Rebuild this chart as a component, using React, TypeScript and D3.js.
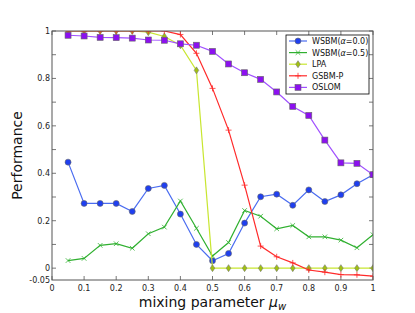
import React, { useEffect, useRef } from "react";
import * as d3 from "d3";

const mu = [0.05, 0.1, 0.15, 0.2, 0.25, 0.3, 0.35, 0.4, 0.45, 0.5, 0.55, 0.6, 0.65, 0.7, 0.75, 0.8, 0.85, 0.9, 0.95, 1.0];

const wsbm0 = [0.447, 0.273, 0.273, 0.273, 0.239, 0.336, 0.349, 0.228, 0.1, 0.031, 0.062, 0.19, 0.301, 0.312, 0.265, 0.33, 0.281, 0.309, 0.356, 0.394];
const wsbm05 = [0.032, 0.041, 0.096, 0.103, 0.084, 0.145, 0.173, 0.283, 0.168, 0.051, 0.108, 0.243, 0.219, 0.166, 0.18, 0.132, 0.132, 0.118, 0.086, 0.141];
const lpa = [1.0, 1.0, 1.0, 1.0, 1.0, 0.995, 0.977, 0.94, 0.834, 0, 0, 0, 0, 0, 0, 0, 0, 0, 0, 0];
const gsbm = [1.0, 1.0, 1.0, 1.0, 1.0, 1.0, 1.0, 0.985, 0.906, 0.758, 0.582, 0.35, 0.093, 0.048, 0.022, -0.008, -0.017, -0.027, -0.028, -0.034];
const oslom = [0.982, 0.979, 0.973, 0.972, 0.97, 0.962, 0.961, 0.946, 0.94, 0.914, 0.861, 0.824, 0.796, 0.743, 0.682, 0.644, 0.54, 0.444, 0.442, 0.394];

const yTickLabels = ["-0.05", "0", "0.2", "0.4", "0.6", "0.8", "1"];
const xTickLabels = ["0", "0.1", "0.2", "0.3", "0.4", "0.5", "0.6", "0.7", "0.8", "0.9", "1"];

type Marker = "circle" | "x" | "diamond" | "plus" | "square";
interface Series {
  name: string;
  alpha?: string;
  values: number[];
  line: string;
  fill: string;
  marker: Marker;
}

const series: Series[] = [
  { name: "WSBM", alpha: "0.0", values: wsbm0, line: "#4a6cf0", fill: "#1f3ff0", marker: "circle" },
  { name: "WSBM", alpha: "0.5", values: wsbm05, line: "#30b030", fill: "#30b030", marker: "x" },
  { name: "LPA", values: lpa, line: "#c8e630", fill: "#a0c010", marker: "diamond" },
  { name: "GSBM-P", values: gsbm, line: "#ff2a2a", fill: "#ff2a2a", marker: "plus" },
  { name: "OSLOM", values: oslom, line: "#a050ff", fill: "#8c10f0", marker: "square" },
];

const FONT = "DejaVu Sans, sans-serif";

const App: React.FC = () => {
  const svgRef = useRef<SVGSVGElement | null>(null);

  useEffect(() => {
    if (!svgRef.current) return;
    const width = 415;
    const height = 313;
    const m = { left: 52, right: 42, top: 31, bottom: 33 };

    const x = d3.scaleLinear().domain([0, 1]).range([m.left, width - m.right]);
    const y = d3.scaleLinear().domain([-0.05, 1]).range([height - m.bottom, m.top]);

    const svg = d3.select(svgRef.current);
    svg.selectAll("*").remove();
    svg.attr("width", width).attr("height", height).style("font-family", FONT);

    svg.append("rect").attr("width", width).attr("height", height).attr("fill", "#fff");

    const frameColor = "#555";
    const [x0, x1] = x.range();
    const [yb, yt] = y.range();

    svg
      .append("defs")
      .append("clipPath")
      .attr("id", "plot-clip")
      .append("rect")
      .attr("x", x0)
      .attr("y", yt)
      .attr("width", x1 - x0)
      .attr("height", yb - yt);

    /* 눈금 (안쪽 방향) */
    const xTicks = d3.range(0, 11).map((i) => i / 10);
    const yTicks = d3.range(0, 11).map((i) => i / 10);
    const ticks = svg.append("g").attr("stroke", frameColor).attr("stroke-width", 0.8);
    xTicks.forEach((t) => {
      ticks.append("line").attr("x1", x(t)).attr("x2", x(t)).attr("y1", yb).attr("y2", yb - 4);
      ticks.append("line").attr("x1", x(t)).attr("x2", x(t)).attr("y1", yt).attr("y2", yt + 4);
    });
    yTicks.forEach((t) => {
      ticks.append("line").attr("x1", x0).attr("x2", x0 + 4).attr("y1", y(t)).attr("y2", y(t));
      ticks.append("line").attr("x1", x1).attr("x2", x1 - 4).attr("y1", y(t)).attr("y2", y(t));
    });

    /* 눈금 라벨 */
    xTickLabels.forEach((lab) => {
      svg
        .append("text")
        .attr("x", x(+lab))
        .attr("y", yb + 11)
        .attr("text-anchor", "middle")
        .attr("font-size", 8)
        .attr("fill", "#222")
        .text(lab);
    });
    yTickLabels.forEach((lab) => {
      svg
        .append("text")
        .attr("x", x0 - 2)
        .attr("y", y(+lab) + 3)
        .attr("text-anchor", "end")
        .attr("font-size", 8)
        .attr("fill", "#222")
        .text(lab);
    });

    /* 축 제목 */
    svg
      .append("text")
      .attr("transform", `translate(22,${(yt + yb) / 2}) rotate(-90)`)
      .attr("text-anchor", "middle")
      .attr("font-size", 14)
      .attr("fill", "#111")
      .text("Performance");

    const xl = svg
      .append("text")
      .attr("x", (x0 + x1) / 2)
      .attr("y", 307)
      .attr("text-anchor", "middle")
      .attr("font-size", 14)
      .attr("fill", "#111");
    xl.append("tspan").text("mixing parameter ");
    xl.append("tspan").attr("font-style", "italic").text("μ");
    xl.append("tspan").attr("font-style", "italic").attr("font-size", 10).attr("dy", 3).text("w");

    /* 마커 그리기 */
    const drawMarker = (g: d3.Selection<SVGGElement, unknown, null, undefined>, s: Series, cx: number, cy: number) => {
      const edge = "#666";
      if (s.marker === "circle") {
        g.append("circle").attr("cx", cx).attr("cy", cy).attr("r", 3).attr("fill", s.fill).attr("stroke", edge).attr("stroke-width", 0.6);
      } else if (s.marker === "square") {
        g.append("rect").attr("x", cx - 3).attr("y", cy - 3).attr("width", 6).attr("height", 6).attr("fill", s.fill).attr("stroke", edge).attr("stroke-width", 0.6);
      } else if (s.marker === "diamond") {
        g.append("path")
          .attr("d", `M${cx},${cy - 3.5}L${cx + 2.3},${cy}L${cx},${cy + 3.5}L${cx - 2.3},${cy}Z`)
          .attr("fill", s.fill)
          .attr("stroke", "#777")
          .attr("stroke-width", 0.6);
      } else if (s.marker === "x") {
        g.append("path")
          .attr("d", `M${cx - 2.3},${cy - 2.3}L${cx + 2.3},${cy + 2.3}M${cx - 2.3},${cy + 2.3}L${cx + 2.3},${cy - 2.3}`)
          .attr("stroke", s.fill)
          .attr("stroke-width", 0.8);
      } else {
        g.append("path")
          .attr("d", `M${cx - 3},${cy}L${cx + 3},${cy}M${cx},${cy - 3}L${cx},${cy + 3}`)
          .attr("stroke", s.fill)
          .attr("stroke-width", 0.8);
      }
    };

    /* 데이터 선 */
    const line = d3
      .line<number>()
      .x((_, i) => x(mu[i]))
      .y((d) => y(d));

    const plot = svg.append("g").attr("clip-path", "url(#plot-clip)");
    series.forEach((s) => {
      const g = plot.append("g");
      g.append("path")
        .attr("d", line(s.values))
        .attr("fill", "none")
        .attr("stroke", s.line)
        .attr("stroke-width", 1.2);
      s.values.forEach((v, i) => drawMarker(g, s, x(mu[i]), y(v)));
    });

    /* 프레임 */
    svg
      .append("rect")
      .attr("x", x0)
      .attr("y", yt)
      .attr("width", x1 - x0)
      .attr("height", yb - yt)
      .attr("fill", "none")
      .attr("stroke", frameColor)
      .attr("stroke-width", 1);

    /* 범례 */
    const lg = svg.append("g").attr("transform", "translate(286,35)");
    lg.append("rect").attr("width", 83).attr("height", 59).attr("fill", "#fff").attr("stroke", "#000").attr("stroke-width", 0.8);
    series.forEach((s, i) => {
      const ly = 6 + i * 11.6;
      const row = lg.append("g");
      row.append("line").attr("x1", 3).attr("x2", 21).attr("y1", ly).attr("y2", ly).attr("stroke", s.line).attr("stroke-width", 1.2);
      drawMarker(row, s, 12, ly);
      const t = row
        .append("text")
        .attr("x", 26)
        .attr("y", ly + 3)
        .attr("font-size", 8)
        .attr("fill", "#111");
      if (s.alpha) {
        t.append("tspan").text(`${s.name}(`);
        t.append("tspan").attr("font-style", "italic").text("α");
        t.append("tspan").text(`=${s.alpha})`);
      } else {
        t.text(s.name);
      }
    });
  }, []);

  return <svg ref={svgRef} style={{ position: "absolute", left: 0, top: 0 }} />;
};

export default App;
